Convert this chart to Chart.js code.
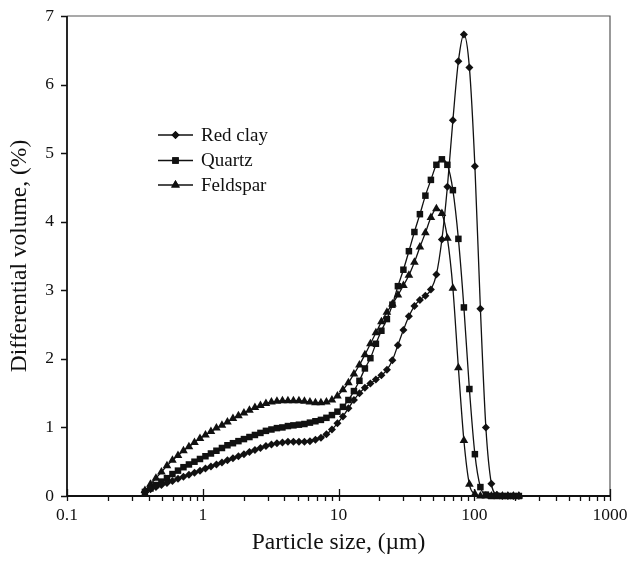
<!DOCTYPE html>
<html>
<head>
<meta charset="utf-8">
<script src="https://cdn.jsdelivr.net/npm/chart.js@4.4.0/dist/chart.umd.min.js"></script>
<style>
  html, body { margin: 0; padding: 0; background: #fff; }
  #wrap { width: 628px; height: 562px; }
</style>
</head>
<body>
<div id="wrap"><canvas id="psd" width="628" height="562"></canvas></div>
<script>
'use strict';

/* particle size bins (um) */
const sizes = [0.375, 0.412, 0.452, 0.496, 0.545, 0.598, 0.657, 0.721, 0.791, 0.869,
  0.954, 1.047, 1.149, 1.261, 1.385, 1.520, 1.669, 1.832, 2.011, 2.208,
  2.423, 2.660, 2.920, 3.206, 3.519, 3.863, 4.241, 4.656, 5.111, 5.611,
  6.159, 6.761, 7.422, 8.148, 8.944, 9.819, 10.78, 11.83, 12.99, 14.26,
  15.65, 17.18, 18.86, 20.70, 22.73, 24.95, 27.39, 30.07, 33.01, 36.24,
  39.78, 43.67, 47.94, 52.62, 57.77, 63.41, 69.61, 76.42, 83.90, 92.09,
  101.1, 111.0, 121.8, 133.7, 146.8, 161.2, 176.9, 194.2, 213.2];

/* differential volume (%) */
const redClay = [0.06, 0.10, 0.13, 0.16, 0.19, 0.22, 0.25, 0.28, 0.31, 0.34,
  0.37, 0.40, 0.43, 0.46, 0.49, 0.52, 0.55, 0.58, 0.61, 0.64,
  0.67, 0.70, 0.73, 0.75, 0.77, 0.78, 0.79, 0.79, 0.79, 0.79,
  0.80, 0.82, 0.85, 0.90, 0.97, 1.06, 1.16, 1.28, 1.40, 1.50,
  1.58, 1.64, 1.70, 1.76, 1.84, 1.98, 2.20, 2.42, 2.62, 2.77,
  2.86, 2.92, 3.01, 3.23, 3.74, 4.51, 5.48, 6.34, 6.73, 6.25,
  4.81, 2.73, 1.00, 0.18, 0.02, 0, 0, 0, 0];

const quartz = [0.06, 0.11, 0.16, 0.21, 0.26, 0.32, 0.37, 0.42, 0.46, 0.50,
  0.54, 0.58, 0.62, 0.66, 0.70, 0.74, 0.77, 0.80, 0.83, 0.86,
  0.89, 0.92, 0.95, 0.97, 0.99, 1.00, 1.02, 1.03, 1.04, 1.05,
  1.07, 1.09, 1.11, 1.14, 1.18, 1.23, 1.30, 1.40, 1.53, 1.68,
  1.86, 2.01, 2.22, 2.41, 2.58, 2.79, 3.06, 3.30, 3.57, 3.85,
  4.11, 4.38, 4.61, 4.83, 4.91, 4.83, 4.46, 3.75, 2.75, 1.56,
  0.61, 0.13, 0.02, 0, 0, 0, 0, 0, 0];

const feldspar = [0.08, 0.17, 0.26, 0.35, 0.44, 0.52, 0.59, 0.66, 0.72, 0.78,
  0.84, 0.89, 0.94, 0.99, 1.03, 1.08, 1.13, 1.17, 1.21, 1.25,
  1.29, 1.32, 1.35, 1.37, 1.38, 1.39, 1.39, 1.39, 1.39, 1.38,
  1.37, 1.36, 1.36, 1.37, 1.40, 1.46, 1.55, 1.65, 1.78, 1.91,
  2.06, 2.22, 2.38, 2.54, 2.68, 2.80, 2.93, 3.07, 3.22, 3.41,
  3.63, 3.84, 4.06, 4.19, 4.12, 3.76, 3.03, 1.87, 0.81, 0.17,
  0.03, 0, 0, 0, 0, 0, 0, 0, 0];

const seriesNames = ['Red clay', 'Quartz', 'Feldspar'];
const seriesMarkers = ['rectRot', 'rect', 'triangle'];
const markerRadius = [4, 4.6, 5];
const xTickLabels = ['0.1', '1', '10', '100', '1000'];
const yTickLabels = ['0', '1', '2', '3', '4', '5', '6', '7'];

const INK = '#111';
const SERIF = "'Liberation Serif', 'DejaVu Serif', serif";

function isDecade(v) {
  const l = Math.log10(v);
  return Math.abs(l - Math.round(l)) < 1e-9;
}

function makeSet(i, values) {
  return {
    label: seriesNames[i],
    data: sizes.map((s, k) => ({ x: s, y: values[k] })),
    borderColor: INK,
    borderWidth: 1.3,
    backgroundColor: INK,
    pointStyle: seriesMarkers[i],
    pointRadius: markerRadius[i],
    pointBackgroundColor: INK,
    pointBorderColor: INK,
    pointBorderWidth: 0,
    cubicInterpolationMode: 'monotone',
    clip: false,
  };
}

/* frame, tick marks and legend drawn on top of the plot */
const framePlugin = {
  id: 'frame',
  afterDraw(chart) {
    const { ctx, chartArea: a, scales: { x, y } } = chart;
    ctx.save();

    // top / right border
    ctx.strokeStyle = '#555';
    ctx.lineWidth = 1.2;
    ctx.beginPath();
    ctx.moveTo(a.left, a.top); ctx.lineTo(a.right, a.top); ctx.lineTo(a.right, a.bottom);
    ctx.stroke();

    // axes
    ctx.strokeStyle = INK;
    ctx.lineWidth = 1.8;
    ctx.beginPath();
    ctx.moveTo(a.left, a.top); ctx.lineTo(a.left, a.bottom); ctx.lineTo(a.right, a.bottom);
    ctx.stroke();

    // y ticks (outside)
    ctx.lineWidth = 1.3;
    ctx.beginPath();
    y.ticks.forEach(t => {
      const py = Math.round(y.getPixelForValue(t.value)) + 0.5;
      ctx.moveTo(a.left - 6, py); ctx.lineTo(a.left, py);
    });
    // x ticks: decades cross the axis, minors hang below
    x.ticks.forEach(t => {
      const px = Math.round(x.getPixelForValue(t.value)) + 0.5;
      if (isDecade(t.value)) {
        ctx.moveTo(px, a.bottom - 7); ctx.lineTo(px, a.bottom + 5);
      } else {
        ctx.moveTo(px, a.bottom); ctx.lineTo(px, a.bottom + 5);
      }
    });
    ctx.stroke();

    // legend inside the plot
    const rows = [135, 160.5, 185];
    ctx.font = '19px ' + SERIF;
    ctx.fillStyle = INK;
    ctx.textBaseline = 'middle';
    rows.forEach((ry, i) => {
      ctx.strokeStyle = INK;
      ctx.lineWidth = 1.3;
      ctx.beginPath();
      ctx.moveTo(158, ry); ctx.lineTo(193, ry);
      ctx.stroke();
      Chart.helpers.drawPoint(ctx, {
        pointStyle: seriesMarkers[i], radius: markerRadius[i], borderWidth: 0, rotation: 0,
      }, 175.5, ry);
      ctx.fill();
      ctx.fillText(seriesNames[i], 201, ry + 1);
    });

    ctx.restore();
  },
};

new Chart(document.getElementById('psd'), {
  type: 'line',
  data: {
    datasets: [makeSet(0, redClay), makeSet(1, quartz), makeSet(2, feldspar)],
  },
  options: {
    responsive: false,
    animation: false,
    events: [],
    layout: { padding: { top: 16, right: 18, left: 0, bottom: 0 } },
    plugins: {
      legend: { display: false },
      tooltip: { enabled: false },
    },
    scales: {
      x: {
        type: 'logarithmic',
        min: 0.1,
        max: 1000,
        afterBuildTicks(s) {
          const vals = [];
          for (let d = 0.1; d < 1000 * 1.001; d *= 10) {
            for (let m = 1; m <= 9; m++) {
              const v = +(d * m).toPrecision(6);
              if (v <= 1000) vals.push({ value: v });
              if (v >= 1000) break;
            }
          }
          s.ticks = vals;
        },
        afterFit(s) {
          s.height = 66;
          s.paddingLeft = 0; s.paddingRight = 0;
        },
        grid: { display: false, drawTicks: false },
        border: { display: false },
        ticks: {
          autoSkip: false,
          maxRotation: 0,
          padding: 9,
          color: INK,
          font: { family: SERIF, size: 17.5 },
          callback(v) {
            if (!isDecade(v)) return '';
            return xTickLabels[Math.round(Math.log10(v)) + 1];
          },
        },
        title: {
          display: true,
          text: 'Particle size, (\u00b5m)',
          color: INK,
          font: { family: SERIF, size: 23.5 },
          padding: { top: 0, bottom: 5 },
        },
      },
      y: {
        min: 0,
        max: 7,
        afterFit(s) {
          s.width = 67;
          s.paddingTop = 0; s.paddingBottom = 0;
        },
        grid: { display: false, drawTicks: false },
        border: { display: false },
        ticks: {
          stepSize: 1,
          padding: 13,
          color: INK,
          font: { family: SERIF, size: 17.5 },
          callback(v) { return yTickLabels[v]; },
        },
        title: {
          display: true,
          text: 'Differential volume, (%)',
          color: INK,
          font: { family: SERIF, size: 23.5 },
          padding: { top: 6, bottom: 0 },
        },
      },
    },
  },
  plugins: [framePlugin],
});
</script>
</body>
</html>
